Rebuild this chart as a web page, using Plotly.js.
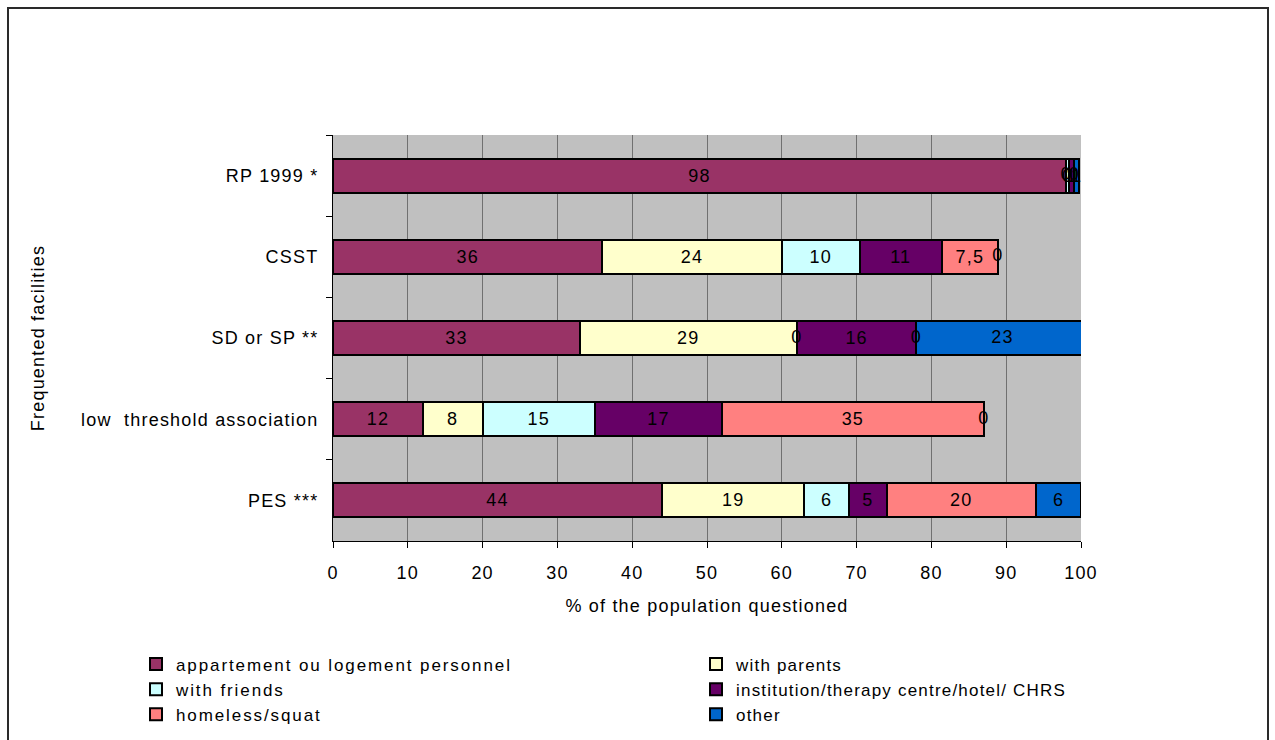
<!DOCTYPE html>
<html>
<head>
<meta charset="utf-8">
<script src="https://cdn.plot.ly/plotly-3.0.1.min.js"></script>
<style>
  html, body { margin: 0; padding: 0; background: #ffffff; }
  #wrap { position: relative; width: 1275px; height: 740px; overflow: hidden; }
  #chart { position: absolute; left: 0; top: 0; width: 1275px; height: 740px; }
  text { letter-spacing: 1.2px; }
  .legendtext { letter-spacing: 1.9px; }
  #frame { position: absolute; left: 7px; top: 7px; width: 1262px; height: 760px;
           border: 2px solid #2a2a2a; box-sizing: border-box; pointer-events: none; }
</style>
</head>
<body>
<div id="wrap">
  <div id="chart"></div>
  <div id="frame"></div>
</div>
<script>
// Categories (top to bottom)
const categories = ["RP 1999 *", "CSST", "SD or SP **", "low  threshold association", "PES ***"];

// Series values (% of the population questioned)
const appartement = [98, 36, 33, 12, 44];
const withParents = [0, 24, 29, 8, 19];
const withFriends = [0.4, 10.4, 0, 15, 6];
const institution = [0.7, 11, 16, 17, 5];
const homeless    = [0, 7.5, 0, 35, 20];
const other       = [0.6, 0, 23, 0, 6];

// Printed data labels
const appartementLabels = ["98", "36", "33", "12", "44"];
const withParentsLabels = ["0", "24", "29", "8", "19"];
const withFriendsLabels = ["0", "10", "0", "15", "6"];
const institutionLabels = ["1", "11", "16", "17", "5"];
const homelessLabels    = ["0", "7,5", "0", "35", "20"];
const otherLabels       = ["1", "0", "23", "0", "6"];

const seriesNames = ["appartement ou logement personnel", "with parents", "with friends",
                     "institution/therapy centre/hotel/ CHRS", "homeless/squat", "other"];
const seriesValues = [appartement, withParents, withFriends, institution, homeless, other];
const seriesLabels = [appartementLabels, withParentsLabels, withFriendsLabels,
                      institutionLabels, homelessLabels, otherLabels];
const seriesColors = ["#993366", "#FFFFCC", "#CCFFFF", "#660066", "#FF8080", "#0066CC"];
const seriesLegend = ["legend", "legend2", "legend", "legend2", "legend", "legend2"];

const X_MAX = 100;
const FONT = "Liberation Sans, Arial, sans-serif";
const BLACK = "#000000";

// Segments whose label Plotly cannot draw inside the bar (zero width, or running past the axis end)
const extraX = [], extraY = [], extraText = [];
const insideText = seriesValues.map(() => categories.map(() => ""));
categories.forEach((cat, j) => {
  let cum = 0;
  seriesValues.forEach((vals, i) => {
    const start = cum;
    cum += vals[j];
    if (vals[j] === 0) {
      extraX.push(cum); extraY.push(cat); extraText.push(seriesLabels[i][j]);
    } else if (cum > X_MAX) {
      extraX.push((start + cum) / 2); extraY.push(cat); extraText.push(seriesLabels[i][j]);
    } else {
      insideText[i][j] = seriesLabels[i][j];
    }
  });
});

const traces = seriesNames.map((name, i) => ({
  type: "bar",
  orientation: "h",
  name: name,
  legend: seriesLegend[i],
  y: categories,
  x: seriesValues[i],
  text: insideText[i],
  textposition: "inside",
  insidetextanchor: "middle",
  constraintext: "none",
  textangle: 0,
  textfont: { family: FONT, size: 18, color: BLACK },
  insidetextfont: { family: FONT, size: 18, color: BLACK },
  marker: { color: seriesColors[i], line: { color: BLACK, width: 2 } },
  hoverinfo: "name+x"
}));

traces.push({
  type: "scatter",
  mode: "text",
  x: extraX,
  y: extraY,
  text: extraText,
  textposition: "middle center",
  textfont: { family: FONT, size: 18, color: BLACK },
  cliponaxis: false,
  showlegend: false,
  hoverinfo: "skip"
});

const legendCommon = {
  orientation: "v",
  traceorder: "normal",
  xanchor: "left",
  y: -0.26,
  yanchor: "top",
  bgcolor: "rgba(0,0,0,0)",
  borderwidth: 0,
  font: { family: FONT, size: 17, color: BLACK },
  tracegroupgap: 0,
  itemclick: false,
  itemdoubleclick: false
};

const layout = {
  width: 1275,
  height: 740,
  barmode: "stack",
  bargap: 0.58,
  paper_bgcolor: "rgba(0,0,0,0)",
  plot_bgcolor: "#C0C0C0",
  margin: { l: 333, r: 194, t: 135, b: 199, pad: 0, autoexpand: false },
  font: { family: FONT, size: 18, color: BLACK },
  showlegend: true,
  xaxis: {
    range: [0, X_MAX],
    dtick: 10,
    tick0: 0,
    showgrid: true,
    gridcolor: "#707070",
    gridwidth: 1,
    zeroline: false,
    showline: true,
    linecolor: BLACK,
    linewidth: 1,
    ticks: "outside",
    ticklen: 6,
    tickcolor: BLACK,
    ticklabelstandoff: 9,
    tickfont: { family: FONT, size: 18, color: BLACK },
    title: { text: "% of the population questioned", font: { family: FONT, size: 18, color: BLACK }, standoff: 17 },
    fixedrange: true
  },
  yaxis: {
    type: "category",
    autorange: "reversed",
    showgrid: false,
    zeroline: false,
    showline: true,
    linecolor: BLACK,
    linewidth: 1,
    ticks: "outside",
    tickson: "boundaries",
    ticklen: 6,
    tickcolor: BLACK,
    ticklabelstandoff: 10,
    tickfont: { family: FONT, size: 18, color: BLACK },
    title: { text: "Frequented facilities", font: { family: FONT, size: 18, color: BLACK }, standoff: 31 },
    fixedrange: true
  },
  legend: Object.assign({}, legendCommon, { x: -0.2634 }),
  legend2: Object.assign({}, legendCommon, { x: 0.4853 })
};

Plotly.newPlot("chart", traces, layout, { displayModeBar: false });
</script>
</body>
</html>
